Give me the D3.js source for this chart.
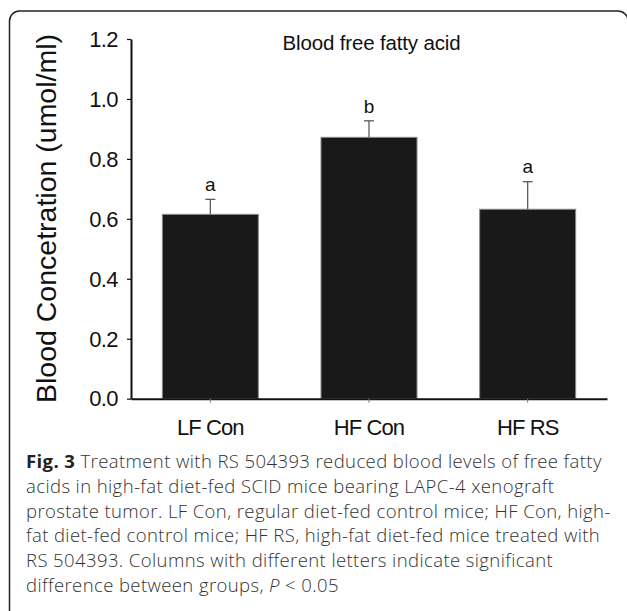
<!DOCTYPE html>
<html>
<head>
<meta charset="utf-8">
<script src="https://cdn.jsdelivr.net/npm/d3@7"></script>
<style>
  body { margin: 0; background: #fff; }
  svg { display: block; }
</style>
</head>
<body>
<svg id="svg" width="627" height="611"></svg>
<script>
// data
const groups = ["LF Con", "HF Con", "HF RS"];
const means = [0.615, 0.872, 0.632];
const errs = [0.05, 0.055, 0.092];
const letters = ["a", "b", "a"];
const yTicks = [0, 0.2, 0.4, 0.6, 0.8, 1.0, 1.2];
const captionLines = [
  "Treatment with RS 504393 reduced blood levels of free fatty",
  "acids in high-fat diet-fed SCID mice bearing LAPC-4 xenograft",
  "prostate tumor. LF Con, regular diet-fed control mice; HF Con, high-",
  "fat diet-fed control mice; HF RS, high-fat diet-fed mice treated with",
  "RS 504393. Columns with different letters indicate significant",
  "difference between groups, "
];

const svg = d3.select("#svg");
const font = "'Liberation Sans', Arial, sans-serif";

// 外枠（下と右は画面外まで）
svg.append("rect")
  .attr("x", 9.5).attr("y", 11)
  .attr("width", 618.5).attr("height", 700)
  .attr("rx", 10)
  .attr("fill", "none")
  .attr("stroke", "#222")
  .attr("stroke-width", 1.5);

const x = d3.scaleBand().domain(groups).range([131, 607])
  .paddingInner(0.395).paddingOuter(0.1975);
const y = d3.scaleLinear().domain([0, 1.2]).range([398.7, 39]);

const data = groups.map((g, i) => ({ g, m: means[i], e: errs[i], l: letters[i] }));

// bars
svg.append("g").selectAll("rect").data(data).join("rect")
  .attr("x", d => x(d.g))
  .attr("y", d => y(d.m))
  .attr("width", x.bandwidth())
  .attr("height", d => y(0) - y(d.m))
  .attr("fill", "#191919")
  .attr("stroke", "#8a8a8a")
  .attr("stroke-width", 1);

// error bars (upper only)
const eb = svg.append("g").attr("stroke", "#5a5a5a").attr("stroke-width", 1.3);
data.forEach(d => {
  const cx = x(d.g) + x.bandwidth() / 2;
  eb.append("line").attr("x1", cx).attr("x2", cx)
    .attr("y1", y(d.m)).attr("y2", y(d.m + d.e));
  eb.append("line").attr("x1", cx - 5).attr("x2", cx + 5)
    .attr("y1", y(d.m + d.e)).attr("y2", y(d.m + d.e));
});

// significance letters
svg.append("g").selectAll("text").data(data).join("text")
  .attr("x", d => x(d.g) + x.bandwidth() / 2)
  .attr("y", d => y(d.m + d.e) - 8.3)
  .attr("text-anchor", "middle")
  .attr("font-family", font)
  .attr("font-size", 19)
  .attr("fill", "#111")
  .text(d => d.l);

// y axis
const yAxis = svg.append("g")
  .attr("transform", "translate(131,0)")
  .call(d3.axisLeft(y).tickValues(yTicks).tickFormat(d3.format(".1f")).tickSize(4).tickSizeOuter(0));
yAxis.select(".domain").attr("stroke", "#111").attr("stroke-width", 2);
yAxis.selectAll(".tick line").attr("stroke", "#111").attr("stroke-width", 1.2);
yAxis.selectAll(".tick text")
  .attr("x", -13).attr("dy", "0.33em")
  .attr("font-family", font).attr("font-size", 22)
  .attr("letter-spacing", -0.6).attr("fill", "#111");

// x axis
const xAxis = svg.append("g")
  .attr("transform", "translate(0,398.7)")
  .call(d3.axisBottom(x).tickSize(4).tickSizeOuter(0));
xAxis.select(".domain").attr("stroke", "#111").attr("stroke-width", 2);
xAxis.selectAll(".tick line").attr("stroke", "#777").attr("stroke-width", 1);
xAxis.selectAll(".tick text")
  .attr("y", 0).attr("dy", 0).attr("transform", "translate(0,36.3)")
  .attr("font-family", font).attr("font-size", 22)
  .attr("letter-spacing", -0.9).attr("fill", "#111");

// title
svg.append("text")
  .attr("x", 371.5).attr("y", 50)
  .attr("text-anchor", "middle")
  .attr("font-family", font).attr("font-size", 20.5)
  .attr("letter-spacing", -0.15)
  .attr("fill", "#111")
  .text("Blood free fatty acid");

// y label
svg.append("text")
  .attr("transform", "translate(56,218.5) rotate(-90)")
  .attr("text-anchor", "middle")
  .attr("font-family", font).attr("font-size", 28.5)
  .attr("fill", "#111")
  .text("Blood Concetration (umol/ml)");

// caption
const cap = svg.append("g")
  .attr("font-family", "'Open Sans', sans-serif")
  .attr("font-size", 18.5)
  .attr("font-weight", 300)
  .attr("letter-spacing", 0.4)
  .attr("fill", "#333");
captionLines.forEach((line, i) => {
  const t = cap.append("text").attr("x", 26).attr("y", 468 + i * 24.8);
  if (i === 0) {
    t.append("tspan").attr("font-weight", 700).attr("fill", "#222").text("Fig. 3");
    t.append("tspan").text(" " + line);
  } else if (i === captionLines.length - 1) {
    t.append("tspan").text(line);
    t.append("tspan").attr("font-style", "italic").text("P");
    t.append("tspan").text(" < 0.05");
  } else {
    t.text(line);
  }
});
</script>
</body>
</html>
